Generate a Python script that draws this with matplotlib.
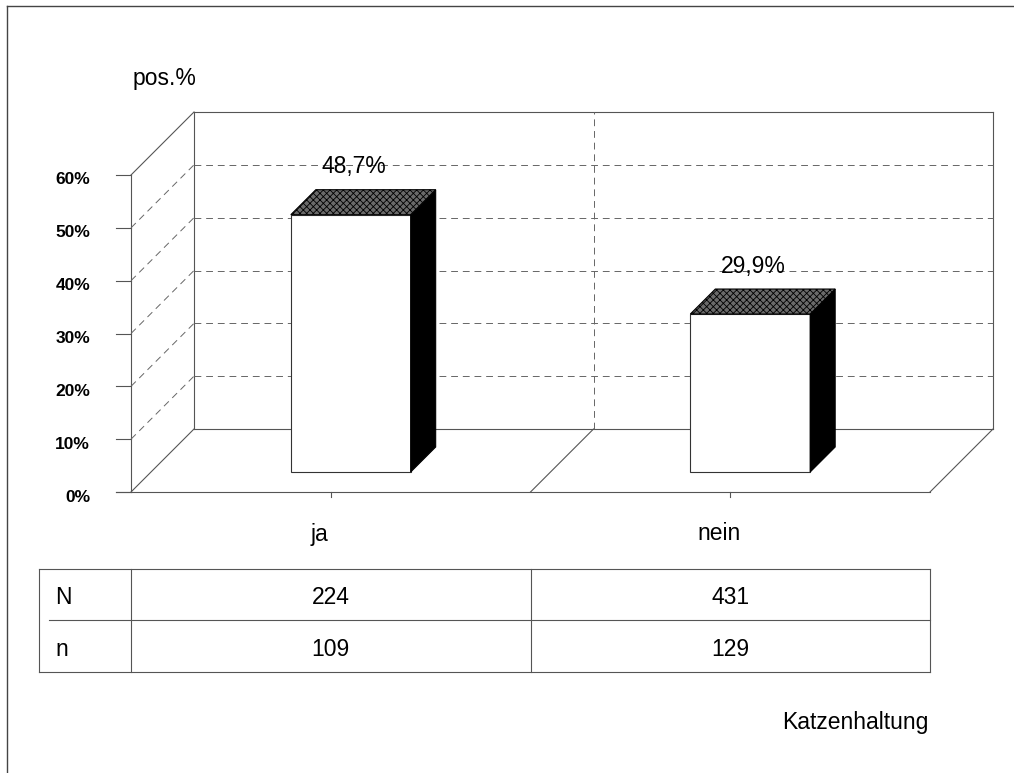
import matplotlib.pyplot as plt
from matplotlib.lines import Line2D
from matplotlib.patches import Polygon
from matplotlib.transforms import IdentityTransform

# data
categories = ['ja', 'nein']
pos_percent = [48.7, 29.9]
n_total = [224, 431]
n_pos = [109, 129]
y_ticks = [0, 10, 20, 30, 40, 50, 60]
row_labels = ['N', 'n']
x_title = 'Katzenhaltung'
y_title = 'pos.%'

plt.rcParams['font.family'] = ['Liberation Sans', 'DejaVu Sans']
plt.rcParams['hatch.linewidth'] = 0.6

W, H = 1014, 773
FS = 16.5
fig = plt.figure(figsize=(W / 100, H / 100), dpi=100)
ax = fig.add_axes([131 / W, 1 - 492 / H, 799 / W, 317 / H])
ax.set_xlim(0, len(categories))
ax.set_ylim(0, 60)
ax.axis('off')

DEPTH = 63          # depth of the 3d box in pixels
BAR_FRONT = 20      # bar front face offset
BAR_BACK = 45       # bar back face offset
BAR_W = 0.30
GRID = '#555555'
IDT = IdentityTransform()


def pt(x, v, d=0):
    # data point -> display pixels, pushed back by d pixels of depth
    px, py = ax.transData.transform((x, v))
    return px + d, py + d


def seg(p, q, z=1, **kw):
    kw.setdefault('color', GRID)
    kw.setdefault('lw', 0.8)
    fig.add_artist(Line2D([p[0], q[0]], [p[1], q[1]], transform=IDT, zorder=z, **kw))


def dseg(p, q):
    seg(p, q, ls=(0, (7, 5)), lw=0.7, color='#666666')


ncat = len(categories)

# back wall
seg(pt(0, 0, DEPTH), pt(ncat, 0, DEPTH))
seg(pt(0, 60, DEPTH), pt(ncat, 60, DEPTH))
seg(pt(0, 0, DEPTH), pt(0, 60, DEPTH))
seg(pt(ncat, 0, DEPTH), pt(ncat, 60, DEPTH))
for v in y_ticks[1:-1]:
    dseg(pt(0, v, DEPTH), pt(ncat, v, DEPTH))
for i in range(1, ncat):
    dseg(pt(i, 0, DEPTH), pt(i, 60, DEPTH))

# side wall and y axis
seg(pt(0, 0), pt(0, 60))
for v in y_ticks:
    if v in (y_ticks[0], y_ticks[-1]):
        seg(pt(0, v), pt(0, v, DEPTH))
    else:
        dseg(pt(0, v), pt(0, v, DEPTH))
    px, py = pt(0, v)
    seg((px - 15, py), (px, py))
    fig.text(px - 41, py - 5, f'{v}%', transform=IDT, ha='right', va='center',
             fontsize=12.5, fontweight='bold')

# floor
px, py = pt(0, 0)
seg((px - 15, py), pt(ncat, 0))
for i in range(1, ncat + 1):
    seg(pt(i, 0), pt(i, 0, DEPTH))
for i, cat in enumerate(categories):
    px, py = pt(i + 0.5, 0)
    seg((px, py), (px, py - 5))
    fig.text(px - 11, py - 42, cat, transform=IDT, ha='center', va='center', fontsize=FS)

# bars
for i, v in enumerate(pos_percent):
    x0 = i + 0.5 - BAR_W / 2
    x1 = i + 0.5 + BAR_W / 2
    front = [pt(x0, 0, BAR_FRONT), pt(x1, 0, BAR_FRONT), pt(x1, v, BAR_FRONT), pt(x0, v, BAR_FRONT)]
    side = [pt(x1, 0, BAR_FRONT), pt(x1, 0, BAR_BACK), pt(x1, v, BAR_BACK), pt(x1, v, BAR_FRONT)]
    top = [pt(x0, v, BAR_FRONT), pt(x1, v, BAR_FRONT), pt(x1, v, BAR_BACK), pt(x0, v, BAR_BACK)]
    fig.add_artist(Polygon(front, closed=True, transform=IDT, facecolor='white',
                           edgecolor='#333333', lw=0.8, zorder=3))
    fig.add_artist(Polygon(side, closed=True, transform=IDT, facecolor='black',
                           edgecolor='black', lw=0.8, zorder=3))
    fig.add_artist(Polygon(top, closed=True, transform=IDT, facecolor='#6a6a6a',
                           edgecolor='black', hatch='xxxxx', lw=0.8, zorder=3))
    px, py = pt(i + 0.5, v, BAR_FRONT)
    fig.text(px + 3, py + 48, f'{v:.1f}%'.replace('.', ','), transform=IDT,
             ha='center', va='center', fontsize=FS, zorder=4)

# table below the chart
col_x = [39] + [pt(i, 0)[0] for i in range(ncat + 1)]
row_y = [H - 569, H - 620, H - 672]
for y in (row_y[0], row_y[2]):
    seg((col_x[0], y), (col_x[-1], y))
seg((col_x[0] + 10, row_y[1]), (col_x[-1], row_y[1]))
for x in col_x:
    seg((x, row_y[0]), (x, row_y[2]))
for r, (lab, vals) in enumerate(zip(row_labels, [n_total, n_pos])):
    yc = (row_y[r] + row_y[r + 1]) / 2 - 3
    fig.text(col_x[0] + 16, yc, lab, transform=IDT, ha='left', va='center', fontsize=FS)
    for i, val in enumerate(vals):
        fig.text((col_x[i + 1] + col_x[i + 2]) / 2, yc, str(val), transform=IDT,
                 ha='center', va='center', fontsize=FS)

# titles
fig.text(133, H - 78, y_title, transform=IDT, ha='left', va='center', fontsize=FS)
fig.text(col_x[-1] - 2, H - 722, x_title, transform=IDT, ha='right', va='center', fontsize=FS)

# outer frame
seg((7, H - 6), (W, H - 6), color='#444444', lw=1.0)
seg((7, 0), (7, H - 6), color='#444444', lw=1.0)

fig.savefig('out.png', dpi=100)
